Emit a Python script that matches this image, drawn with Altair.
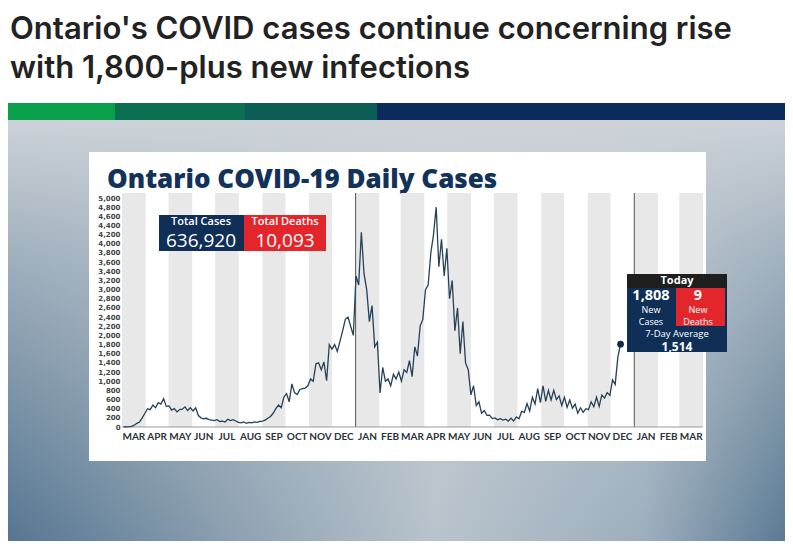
import altair as alt
import pandas as pd

# ---------------- data ----------------
headline = ["Ontario's COVID cases continue concerning rise",
            "with 1,800-plus new infections"]
chart_title = "Ontario COVID-19 Daily Cases"

# daily cases sampled every 3.5 days starting 2020-03-03
cases_2020 = [1, 3, 6, 15, 40, 80, 110, 200, 300,
              400, 380, 480, 420, 530, 500, 620, 450,
              460, 370, 400, 330, 380, 390, 440, 360, 420,
              350, 420, 250, 200, 180, 190, 160, 150, 140,
              160, 120, 130, 110, 170, 140, 160, 130, 100,
              90, 110, 80, 100, 90, 110, 100, 120,
              130, 150, 190, 230, 300, 400, 480, 420, 650,
              730, 550, 940, 750, 710, 820, 840, 850, 900,
              1050, 1000, 1380, 1400, 1250, 1420, 1010, 1800,
              1700, 1800, 1650, 1870, 2100, 2350, 2400, 2200, 2000]
cases_2021 = [3300, 3100, 4250, 3350, 3000, 2300, 2650, 1750, 1850,
              745, 1300, 1000, 1050, 900, 1150, 1050, 1200,
              1000, 1250, 1190, 1450, 1100, 1750, 1550, 2200, 2350,
              3000, 3100, 3800, 4200, 4800, 3500, 4100, 3300, 3900,
              2800, 3200, 2100, 2600, 1600, 2300, 1400, 1250,
              700, 900, 470, 550, 300, 360, 255, 260, 185,
              200, 160, 180, 150, 170, 130, 190, 130, 220,
              180, 340, 320, 510, 350, 650, 500, 840,
              530, 900, 560, 800, 590, 800, 600, 680, 470,
              650, 430, 590, 410, 500, 300, 420, 320, 400,
              380, 550, 440, 650, 450, 700, 630, 750, 690,
              1030, 930, 1530, 1808]

month_labels = ["MAR", "APR", "MAY", "JUN", "JUL", "AUG", "SEP", "OCT", "NOV",
                "DEC", "JAN", "FEB", "MAR", "APR", "MAY", "JUN", "JUL", "AUG",
                "SEP", "OCT", "NOV", "DEC", "JAN", "FEB", "MAR"]
y_ticks = list(range(0, 5001, 200))
year_breaks = ["2021-01-01T00:00:00", "2022-01-01T00:00:00"]

total_cases_label = "Total Cases"
total_cases = "636,920"
total_deaths_label = "Total Deaths"
total_deaths = "10,093"
today_label = "Today"
today_cases = "1,808"
today_deaths = "9"
avg_label = "7-Day Average"
seven_day_avg = "1,514"

# ---------------- tables ----------------
cases = cases_2020 + cases_2021
dates = pd.date_range("2020-03-03", periods=len(cases), freq="84h")
df = pd.DataFrame({"date": dates.strftime("%Y-%m-%dT%H:%M:%S"), "cases": cases})

starts = pd.date_range("2020-03-01", periods=len(month_labels), freq="MS")
ends = pd.date_range("2020-04-01", periods=len(month_labels), freq="MS")
mids = starts + (ends - starts) / 2
months = pd.DataFrame({
    "start": starts.strftime("%Y-%m-%dT%H:%M:%S"),
    "end": ends.strftime("%Y-%m-%dT%H:%M:%S"),
    "mid": mids.strftime("%Y-%m-%dT%H:%M:%S"),
    "label": month_labels,
})
bands = months.iloc[::2]
years = pd.DataFrame({"d": year_breaks})

# ---------------- layout ----------------
W, H = 581, 229          # plot area
OX, OY = 122, 198        # page position of plot origin
PAD = {"left": OX - 8, "top": OY - 8, "right": 777 - (OX - 8) - W, "bottom": 533 - (OY - 8) - H}


def X(p):
    return p - OX


def Y(p):
    return p - OY


one = alt.Data(values=[{"k": 0}])

xs = alt.Scale(domain=[alt.DateTime(year=2020, month=3, date=1),
                       alt.DateTime(year=2022, month=4, date=1)])
ys = alt.Scale(domain=[0, 5000])
y_axis = alt.Axis(values=y_ticks, format=",.0f", title=None, domain=False, ticks=False,
                  grid=False, labelFont="DejaVu Sans", labelFontWeight="bold",
                  labelFontSize=7, labelColor="#444444", labelPadding=2,
                  labelOverlap=False, zindex=2)


def box(x1, x2, y1, y2, fill):
    return alt.Chart(one).mark_rect(fill=fill).encode(
        x=alt.value(X(x1)), x2=alt.value(X(x2)), y=alt.value(Y(y1)), y2=alt.value(Y(y2)))


def label(txt, x, y, size, weight="normal", color="white", font="Open Sans",
          align="center", baseline="middle"):
    return alt.Chart(one).mark_text(
        text=txt, fontSize=size, fontWeight=weight, color=color, font=font,
        align=align, baseline=baseline).encode(x=alt.value(X(x)), y=alt.value(Y(y)))


bg_h = alt.LinearGradient(gradient="linear", x1=0, x2=1, y1=0, y2=0, stops=[
    alt.GradientStop(color="#557590", offset=0),
    alt.GradientStop(color="#8ea2b2", offset=0.3),
    alt.GradientStop(color="#b8c3cc", offset=0.55),
    alt.GradientStop(color="#9caebd", offset=0.82),
    alt.GradientStop(color="#5a7a93", offset=1)])
bg_v = alt.LinearGradient(gradient="linear", x1=0, x2=0, y1=0, y2=1, stops=[
    alt.GradientStop(color="rgba(204,210,216,1)", offset=0),
    alt.GradientStop(color="rgba(204,210,216,0.6)", offset=0.35),
    alt.GradientStop(color="rgba(204,210,216,0)", offset=1)])

layers = [
    label(headline[0], 10, 39, 31, weight=600, color="#222222", font="Inter",
          align="left", baseline="alphabetic"),
    label(headline[1], 10, 78, 31, weight=600, color="#222222", font="Inter",
          align="left", baseline="alphabetic"),
    box(8, 785, 120, 542, bg_h),
    box(8, 785, 120, 542, bg_v),
    box(8, 115, 103, 120, "#08a04a"),
    box(115, 245, 103, 120, "#0b6f51"),
    box(245, 377, 103, 120, "#0b5e56"),
    box(377, 785, 103, 120, "#0a2b5c"),
    box(89, 706, 152, 461, "#ffffff"),
    label(chart_title, 107, 188, 26, weight=800, color="#13325a", align="left", baseline="alphabetic"),
    alt.Chart(bands).mark_rect(color="#e8e8e8").encode(
        x=alt.X("start:T", scale=xs, axis=None), x2="end:T",
        y=alt.value(-5), y2=alt.value(H)),
    alt.Chart(years).mark_rule(color="#555555", strokeWidth=1).encode(
        x=alt.X("d:T", scale=xs, axis=None), y=alt.value(-5), y2=alt.value(H)),
    alt.Chart(one).mark_rule(color="#9a9a9a", strokeWidth=1).encode(
        x=alt.value(0), x2=alt.value(W), y=alt.value(H)),
    alt.Chart(months).mark_text(font="Lato", fontWeight="bold",
                                fontSize=10, color="#2b3440", baseline="middle").encode(
        x=alt.X("mid:T", scale=xs, axis=None), y=alt.value(Y(437)), text="label:N"),
    alt.Chart(df).mark_line(color="#26425a", strokeWidth=1.3).encode(
        x=alt.X("date:T", scale=xs, axis=None),
        y=alt.Y("cases:Q", scale=ys, axis=y_axis)),
    alt.Chart(df.tail(1)).mark_circle(size=45, color="#13284a", opacity=1).encode(
        x=alt.X("date:T", scale=xs, axis=None), y=alt.Y("cases:Q", scale=ys, axis=y_axis)),
    # total boxes
    box(159, 244, 215, 251, "#0f2f57"),
    box(244, 326, 215, 251, "#e3262b"),
    label(total_cases_label, 201, 222, 11, weight=600),
    label(total_cases, 201, 240.5, 19, weight=500),
    label(total_deaths_label, 285, 222, 11, weight=600),
    label(total_deaths, 285, 240.5, 19, weight=500),
    # today box
    box(627, 727, 274, 288, "#1e1e1e"),
    box(627, 727, 288, 352, "#0f2f57"),
    box(676, 725, 288, 326, "#e3262b"),
    label(today_label, 677, 281, 11, weight="bold"),
    label(today_cases, 651, 295.5, 14.5, weight="bold"),
    label("New", 651, 310, 9),
    label("Cases", 651, 322, 9),
    label(today_deaths, 698, 295.5, 14.5, weight="bold"),
    label("New", 698, 310, 9),
    label("Deaths", 698, 322, 9),
    label(avg_label, 677, 333.5, 9.5),
    label(seven_day_avg, 677, 347, 12, weight="bold"),
]

chart = alt.layer(*layers).properties(
    width=W, height=H,
    autosize=alt.AutoSizeParams(type="none"),
    padding=PAD,
    background="white",
).configure_view(strokeWidth=0)

chart.save("out.html", embed_options={"renderer": "svg", "actions": False})
